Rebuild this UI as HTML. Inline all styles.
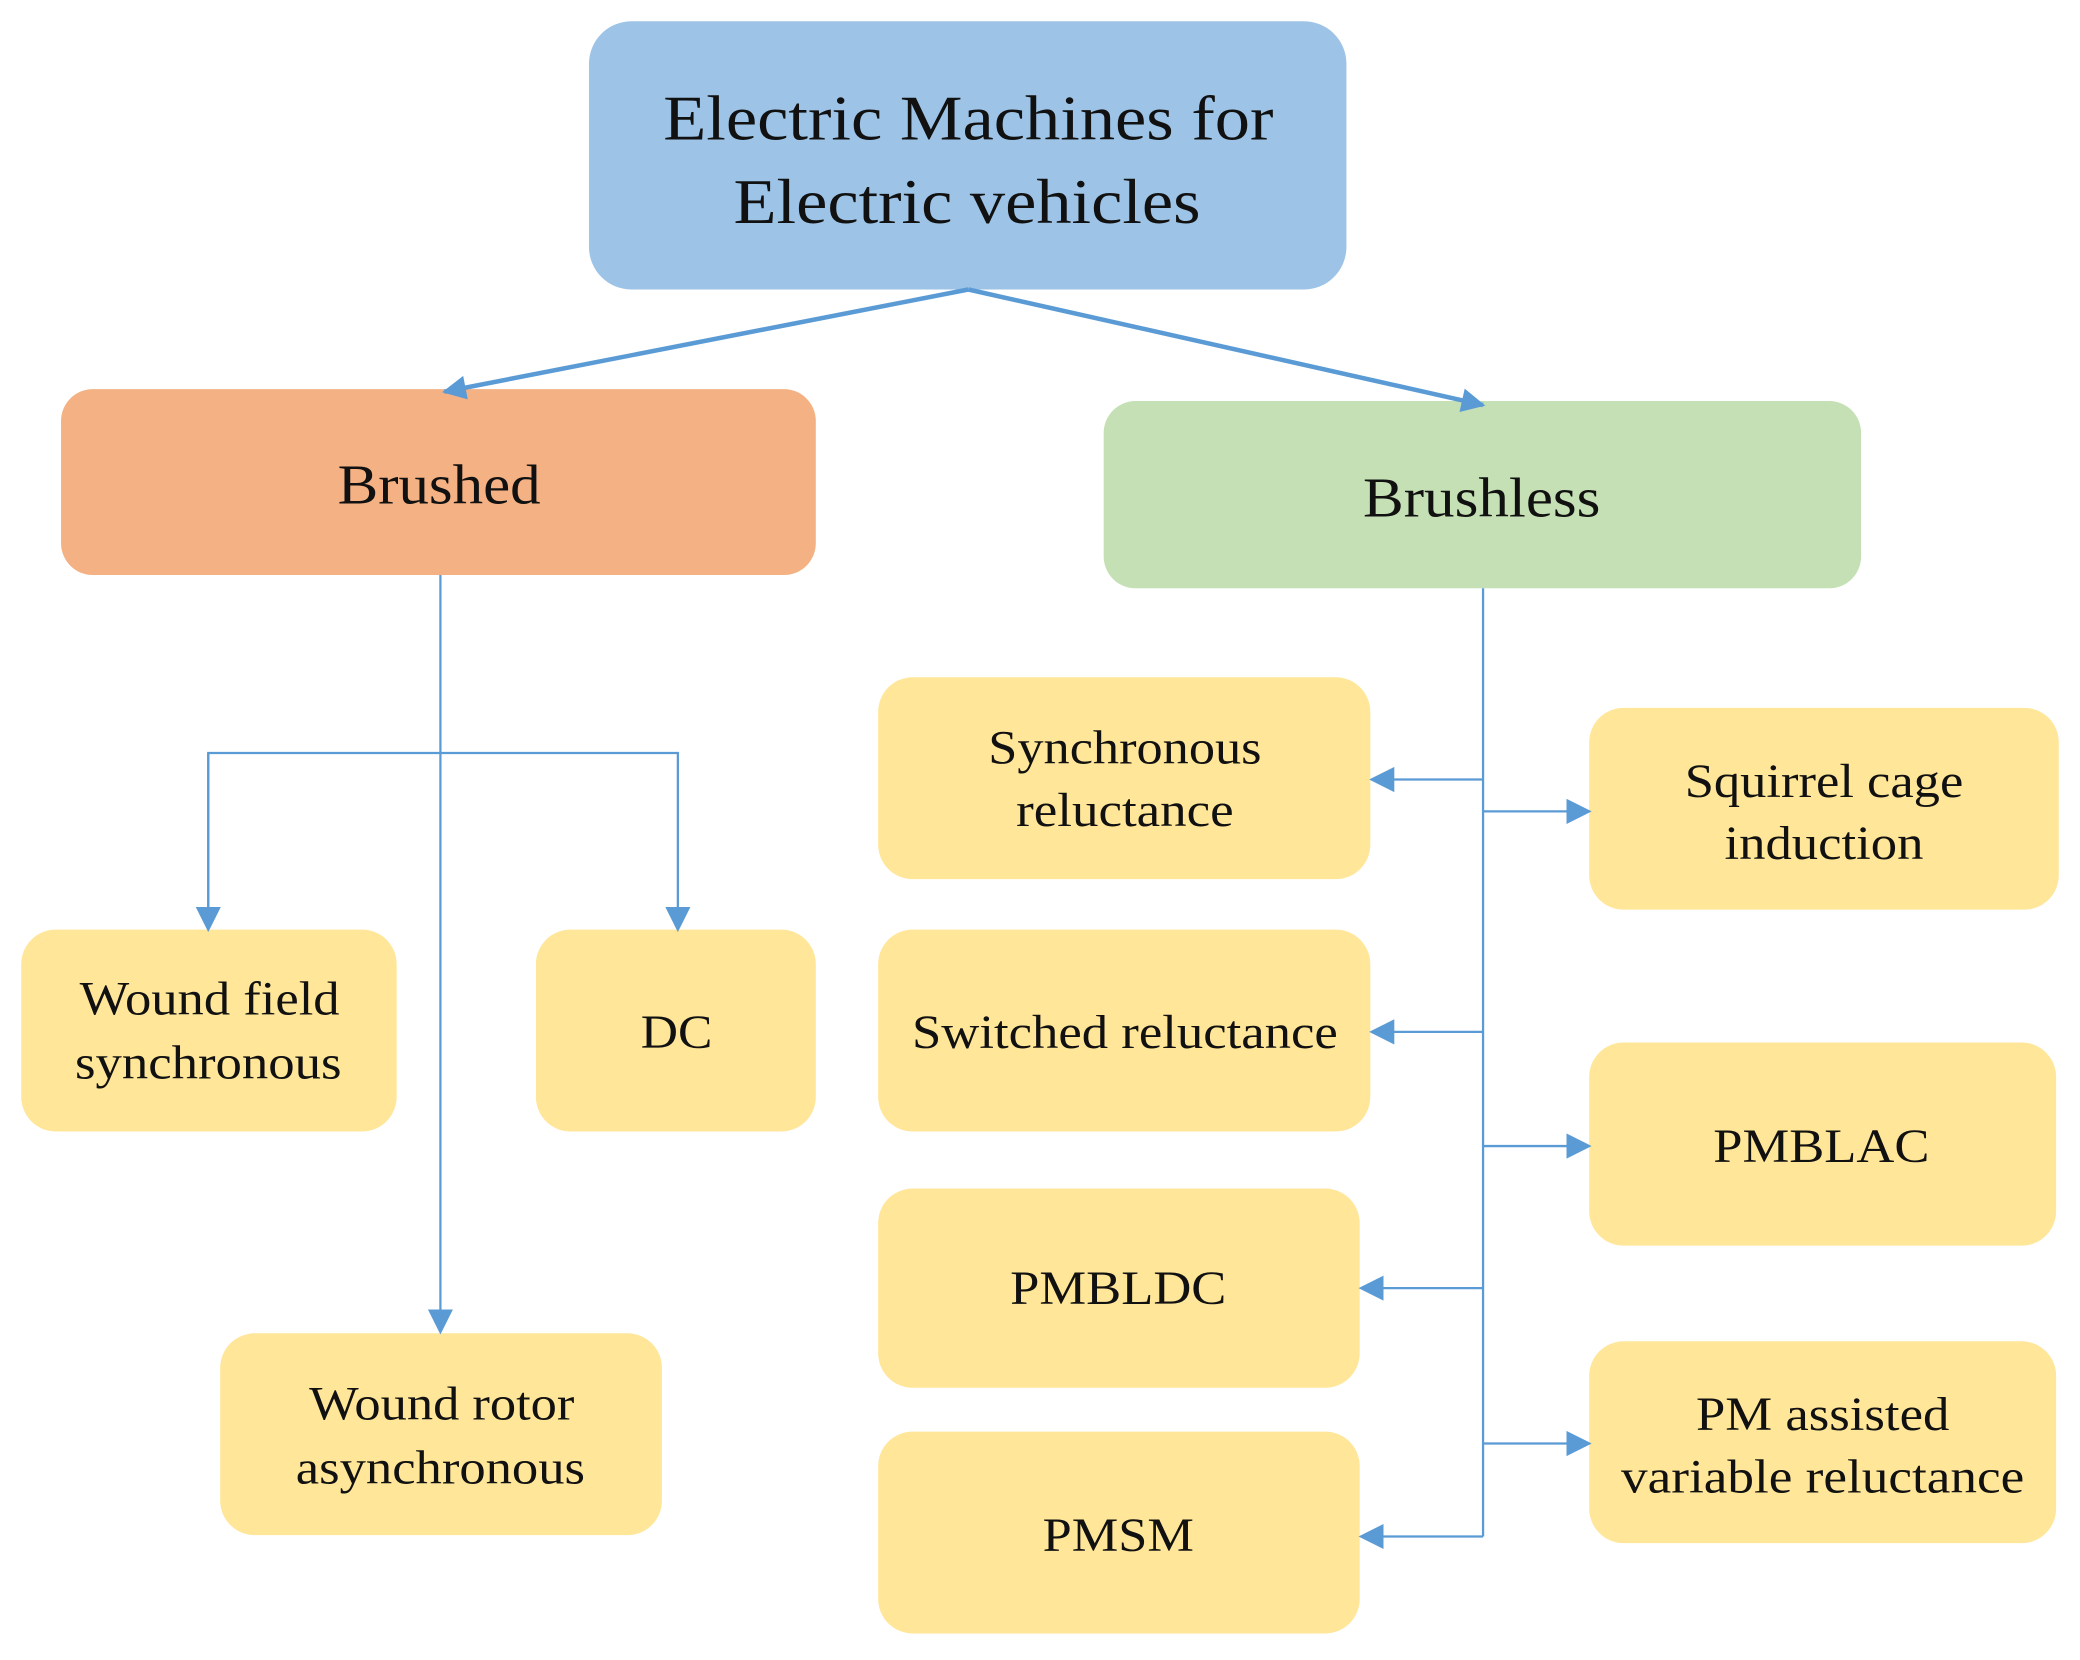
<!DOCTYPE html>
<html><head><meta charset="utf-8"><style>html,body{margin:0;padding:0;background:#fff;}svg{display:block}</style></head>
<body>
<svg width="2080" height="1660" viewBox="0 0 1568 1250" preserveAspectRatio="none" xmlns="http://www.w3.org/2000/svg" font-family="'Liberation Serif', serif" fill="#111">
<defs>
<marker id="a" viewBox="0 0 10 10" refX="9" refY="5" markerWidth="20" markerHeight="18" markerUnits="userSpaceOnUse" orient="auto"><path d="M0,0 L10,5 L0,10 z" fill="#5B9BD5"/></marker>
<marker id="b" viewBox="0 0 10 10" refX="9" refY="5" markerWidth="19" markerHeight="19" markerUnits="userSpaceOnUse" orient="auto"><path d="M0,0 L10,5 L0,10 z" fill="#5B9BD5"/></marker>
</defs>
<rect x="444" y="16" width="571" height="202" rx="32" fill="#9DC3E6"/>
<rect x="46" y="293" width="569" height="140" rx="24" fill="#F4B183"/>
<rect x="832" y="302" width="571" height="141" rx="24" fill="#C5E0B4"/>
<g fill="#FFE699">
<rect x="662" y="510" width="371" height="152" rx="26"/>
<rect x="1198" y="533" width="354" height="152" rx="26"/>
<rect x="662" y="700" width="371" height="152" rx="26"/>
<rect x="1198" y="785" width="352" height="153" rx="26"/>
<rect x="662" y="895" width="363" height="150" rx="26"/>
<rect x="1198" y="1010" width="352" height="152" rx="26"/>
<rect x="662" y="1078" width="363" height="152" rx="26"/>
<rect x="16" y="700" width="283" height="152" rx="26"/>
<rect x="404" y="700" width="211" height="152" rx="26"/>
<rect x="166" y="1004" width="333" height="152" rx="26"/>
</g>
<g stroke="#5B9BD5" fill="none">
<line x1="730" y1="218" x2="335" y2="295" stroke-width="3.4" marker-end="url(#a)"/>
<line x1="730" y1="218" x2="1118" y2="305" stroke-width="3.4" marker-end="url(#a)"/>
<g stroke-width="1.7">
<line x1="332" y1="433" x2="332" y2="1003" marker-end="url(#b)"/>
<polyline points="157,700 157,567 511,567 511,700" marker-end="url(#b)"/>
<line x1="157" y1="567" x2="157" y2="700" marker-end="url(#b)"/>
<line x1="1118" y1="443" x2="1118" y2="1157"/>
<line x1="1118" y1="587" x2="1034" y2="587" marker-end="url(#b)"/>
<line x1="1118" y1="611" x2="1198" y2="611" marker-end="url(#b)"/>
<line x1="1118" y1="777" x2="1034" y2="777" marker-end="url(#b)"/>
<line x1="1118" y1="863" x2="1198" y2="863" marker-end="url(#b)"/>
<line x1="1118" y1="970" x2="1026" y2="970" marker-end="url(#b)"/>
<line x1="1118" y1="1087" x2="1198" y2="1087" marker-end="url(#b)"/>
<line x1="1118" y1="1157" x2="1026" y2="1157" marker-end="url(#b)"/>
</g>
</g>
<g text-anchor="middle">
<text x="730" y="105" font-size="48" textLength="460" lengthAdjust="spacingAndGlyphs">Electric Machines for</text>
<text x="729" y="168" font-size="48" textLength="352" lengthAdjust="spacingAndGlyphs">Electric vehicles</text>
<text x="331" y="379" font-size="42" textLength="153" lengthAdjust="spacingAndGlyphs">Brushed</text>
<text x="1117" y="389" font-size="42" textLength="179" lengthAdjust="spacingAndGlyphs">Brushless</text>
<g font-size="36">
<text x="848" y="575" textLength="206" lengthAdjust="spacingAndGlyphs">Synchronous</text>
<text x="848" y="622" textLength="164" lengthAdjust="spacingAndGlyphs">reluctance</text>
<text x="1375" y="600" textLength="210" lengthAdjust="spacingAndGlyphs">Squirrel cage</text>
<text x="1375" y="647" textLength="150" lengthAdjust="spacingAndGlyphs">induction</text>
<text x="848" y="789" textLength="321" lengthAdjust="spacingAndGlyphs">Switched reluctance</text>
<text x="1373" y="875" textLength="163" lengthAdjust="spacingAndGlyphs">PMBLAC</text>
<text x="843" y="982" textLength="163" lengthAdjust="spacingAndGlyphs">PMBLDC</text>
<text x="1374" y="1077" textLength="191" lengthAdjust="spacingAndGlyphs">PM assisted</text>
<text x="1374" y="1124" textLength="304" lengthAdjust="spacingAndGlyphs">variable reluctance</text>
<text x="843" y="1168" textLength="114" lengthAdjust="spacingAndGlyphs">PMSM</text>
<text x="158" y="764" textLength="196" lengthAdjust="spacingAndGlyphs">Wound field</text>
<text x="157" y="812" textLength="201" lengthAdjust="spacingAndGlyphs">synchronous</text>
<text x="510" y="789" textLength="54" lengthAdjust="spacingAndGlyphs">DC</text>
<text x="333" y="1069" textLength="200" lengthAdjust="spacingAndGlyphs">Wound rotor</text>
<text x="332" y="1117" textLength="218" lengthAdjust="spacingAndGlyphs">asynchronous</text>
</g>
</g>
</svg>
</body></html>
